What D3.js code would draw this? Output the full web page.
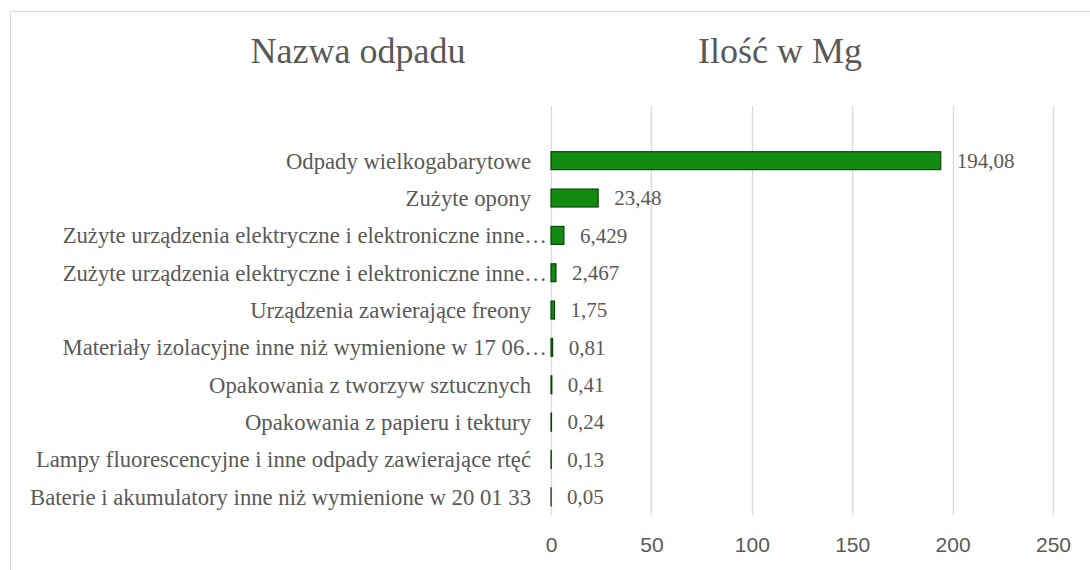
<!DOCTYPE html>
<html>
<head>
<meta charset="utf-8">
<title>Nazwa odpadu / Ilość w Mg</title>
<script src="https://d3js.org/d3.v7.min.js"></script>
<style>
  body { margin: 0; background: #fff; }
  text.serif { font-family: 'Liberation Serif', 'DejaVu Serif', serif; fill: #595959; }
  text.sans { font-family: 'Liberation Sans', 'Open Sans', sans-serif; fill: #595959; }
</style>
</head>
<body>
<div id="chart"></div>
<script>
// ******* Data *******
const categories = [
  "Odpady wielkogabarytowe",
  "Zużyte opony",
  "Zużyte urządzenia elektryczne i elektroniczne inne…",
  "Zużyte urządzenia elektryczne i elektroniczne inne…",
  "Urządzenia zawierające freony",
  "Materiały izolacyjne inne niż wymienione w 17 06…",
  "Opakowania z tworzyw sztucznych",
  "Opakowania z papieru i tektury",
  "Lampy fluorescencyjne i inne odpady zawierające rtęć",
  "Baterie i akumulatory inne niż wymienione w 20 01 33"
];
const values = [194.08, 23.48, 6.429, 2.467, 1.75, 0.81, 0.41, 0.24, 0.13, 0.05];
const xTicks = [0, 50, 100, 150, 200, 250];
const titles = ["Nazwa odpadu", "Ilość w Mg"];

// ******* Constants *******
const width = 1090, height = 570;
const x0 = 551, x1 = 1053;

const svg = d3.select("#chart").append("svg")
  .attr("width", width)
  .attr("height", height);

// chart border
svg.append("rect")
  .attr("x", 10.5).attr("y", 11.5)
  .attr("width", width + 20).attr("height", height + 20)
  .attr("fill", "none").attr("stroke", "#d9d9d9");

const xScale = d3.scaleLinear().domain([0, 250]).range([x0, x1]);
const yScale = d3.scaleBand()
  .domain(d3.range(categories.length))
  .range([142, 515.5])
  .paddingInner(0.52)
  .paddingOuter(0.26);

// gridlines
svg.append("g")
  .selectAll("line")
  .data(xTicks)
  .join("line")
  .attr("x1", d => Math.round(xScale(d)) + 0.5)
  .attr("x2", d => Math.round(xScale(d)) + 0.5)
  .attr("y1", 106).attr("y2", 515)
  .attr("stroke", "#d9d9d9")
  .attr("stroke-width", 1.3);

// x axis labels
const xAxis = svg.append("g")
  .attr("transform", `translate(0, 515)`)
  .call(d3.axisBottom(xScale).tickValues(xTicks).tickSize(0).tickPadding(22));
xAxis.select(".domain").remove();
xAxis.selectAll("text")
  .attr("class", "sans")
  .attr("font-size", 21)
  .attr("fill", "#595959");

// bars
svg.append("g")
  .selectAll("rect")
  .data(values)
  .join("rect")
  .attr("x", xScale(0))
  .attr("y", (d, i) => yScale(i))
  .attr("width", d => xScale(d) - xScale(0))
  .attr("height", yScale.bandwidth())
  .attr("fill", "#118c11")
  .attr("stroke", "#0a440a")
  .attr("stroke-width", 1.2);

// category labels
svg.append("g")
  .selectAll("text")
  .data(categories)
  .join("text")
  .attr("class", "serif")
  .attr("x", d => d.endsWith("…") ? x0 - 4 : x0 - 20)
  .attr("y", (d, i) => yScale(i) + yScale.bandwidth() / 2)
  .attr("dy", "0.35em")
  .attr("text-anchor", "end")
  .attr("font-size", 22.7)
  .text(d => d);

// value labels
svg.append("g")
  .selectAll("text")
  .data(values)
  .join("text")
  .attr("class", "serif")
  .attr("x", d => xScale(d) + 16)
  .attr("y", (d, i) => yScale(i) + yScale.bandwidth() / 2)
  .attr("dy", "0.35em")
  .attr("font-size", 21)
  .text(d => String(d).replace(".", ","));

// column titles
svg.selectAll(".title")
  .data(titles)
  .join("text")
  .attr("class", "serif title")
  .attr("x", (d, i) => i === 0 ? 358 : 780)
  .attr("y", 63)
  .attr("text-anchor", "middle")
  .attr("font-size", 36)
  .text(d => d);
</script>
</body>
</html>
